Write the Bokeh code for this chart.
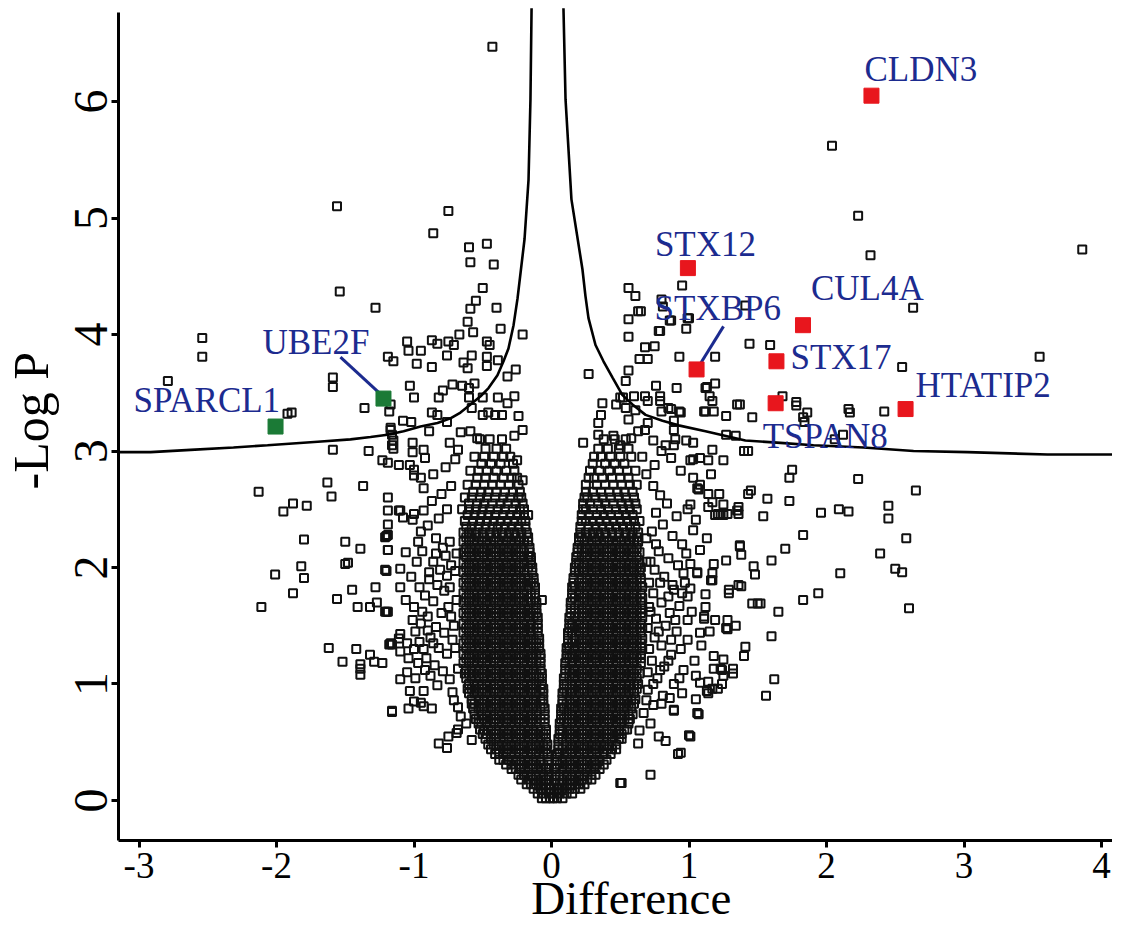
from math import pi
from bokeh.plotting import figure
from bokeh.models import ColumnDataSource, FixedTicker, Label, Range1d
from bokeh.core.properties import value
from bokeh.embed import file_html
from bokeh.resources import INLINE

# ---------------- data ----------------
x_ticks = [-3, -2, -1, 0, 1, 2, 3, 4]
x_tick_labels = ["-3", "-2", "-1", "0", "1", "2", "3", "4"]
y_ticks = [0, 1, 2, 3, 4, 5, 6]
y_tick_labels = ["0", "1", "2", "3", "4", "5", "6"]

# highlighted proteins
hl_names = ["CLDN3", "STX12", "STXBP6", "CUL4A", "STX17", "TSPAN8", "HTATIP2", "UBE2F", "SPARCL1"]
hl_diff = [2.327, 0.992, 1.055, 1.829, 1.636, 1.630, 2.575, -1.222, -2.007]
hl_logp = [6.05, 4.57, 3.70, 4.08, 3.77, 3.41, 3.36, 3.45, 3.21]
hl_group = ["up", "up", "up", "up", "up", "up", "up", "down", "down"]

# leader lines: label end -> point
leader_from_x = [-1.535, 1.251]
leader_from_y = [3.805, 4.07]
leader_to_x = [-1.245, 1.078]
leader_to_y = [3.49, 3.74]

# significance curve (two branches)
curve_left_x = [-3.149, -2.916, -2.625, -2.313, -2.065, -1.70, -1.462, -1.316, -1.193, -1.076,
                -0.953, -0.829, -0.735, -0.662, -0.589, -0.516, -0.458, -0.393, -0.349, -0.313,
                -0.276, -0.247, -0.196, -0.167, -0.153, -0.145]
curve_left_y = [2.99, 2.99, 3.01, 3.03, 3.05, 3.08, 3.10, 3.12, 3.14, 3.17,
                3.21, 3.24, 3.28, 3.33, 3.40, 3.47, 3.54, 3.65, 3.77, 3.88,
                4.08, 4.31, 4.82, 5.33, 6.02, 6.80]
curve_right_x = [0.087, 0.102, 0.145, 0.225, 0.247, 0.269, 0.32, 0.378, 0.444, 0.516, 0.589,
                 0.684, 0.807, 0.924, 1.12, 1.41, 1.665, 1.905, 2.269, 2.633, 3.025, 3.607, 4.19]
curve_right_y = [6.80, 6.02, 5.16, 4.56, 4.33, 4.14, 3.91, 3.77, 3.63, 3.48, 3.40,
                 3.31, 3.26, 3.22, 3.17, 3.09, 3.07, 3.05, 3.03, 3.00, 2.99, 2.97, 2.97]

# sparse proteins, left side
outer_left = [
    (-2.79, 3.60), (-2.54, 3.97), (-2.54, 3.81), (-1.56, 5.10), (-1.54, 4.37), (-1.28, 4.23), (-1.59, 3.63),
    (-1.59, 3.55), (-1.36, 3.37), (-1.92, 3.32), (-1.89, 3.33), (-1.19, 3.81), (-1.15, 3.77), (-1.59, 3.01),
    (-1.33, 3.00), (-1.23, 2.92), (-1.19, 2.90), (-1.18, 3.34), (-1.17, 3.20), (-1.16, 3.05),
    (-2.13, 2.65), (-1.63, 2.73), (-1.60, 2.61), (-1.37, 2.70), (-1.95, 2.48), (-1.88, 2.55), (-1.78, 2.53),
    (-1.80, 2.24), (-1.50, 2.22), (-1.39, 2.16), (-1.20, 2.27), (-1.19, 2.15), (-1.50, 2.03), (-1.48, 2.04),
    (-1.20, 1.97), (-2.01, 1.94), (-1.82, 2.01), (-1.80, 1.91), (-1.88, 1.78), (-1.45, 1.81), (-1.28, 1.83),
    (-1.56, 1.73), (-1.41, 1.66), (-1.32, 1.66), (-1.27, 1.70), (-1.20, 1.62), (-2.11, 1.66), (-1.62, 1.31),
    (-1.42, 1.30), (-1.52, 1.19), (-1.39, 1.17), (-1.39, 1.13), (-1.39, 1.08), (-1.32, 1.25), (-1.29, 1.19),
    (-1.23, 1.18), (-1.18, 1.34), (-1.16, 0.77),
    (-0.43, 6.47), (-0.75, 5.06), (-0.86, 4.87), (-0.60, 4.75), (-0.47, 4.78), (-0.59, 4.62), (-0.42, 4.60),
    (-0.50, 4.40), (-0.55, 4.29), (-0.59, 4.22), (-0.40, 4.23), (-0.61, 4.11), (-0.67, 4.00), (-0.57, 4.02),
    (-0.37, 4.05), (-0.21, 4.00), (-1.05, 3.94), (-0.87, 3.95), (-0.83, 3.92), (-0.75, 3.94), (-0.71, 3.91),
    (-0.47, 3.94), (-0.45, 3.91), (-1.04, 3.86), (-0.95, 3.86), (-0.98, 3.75), (-0.87, 3.72), (-0.76, 3.82),
    (-0.64, 3.76), (-0.61, 3.71), (-0.58, 3.82), (-0.47, 3.81), (-0.47, 3.73), (-0.39, 3.78), (-0.32, 3.64),
    (-0.26, 3.70), (-1.03, 3.56), (-1.00, 3.46), (-0.82, 3.46), (-0.79, 3.52), (-0.72, 3.57), (-0.65, 3.56),
    (-0.60, 3.54), (-0.56, 3.58), (-0.60, 3.46), (-0.58, 3.37), (-0.50, 3.46), (-0.39, 3.46), (-0.32, 3.41),
    (-0.27, 3.47), (-1.17, 3.40), (-1.08, 3.26), (-1.02, 3.25), (-0.87, 3.33), (-0.83, 3.31), (-0.76, 3.25),
    (-0.89, 3.17), (-1.17, 3.18), (-1.16, 3.14), (-0.50, 3.31), (-0.46, 3.33), (-0.41, 3.31), (-0.36, 3.31),
    (-0.24, 3.30), (-0.21, 3.18), (-0.27, 3.13), (-0.66, 3.16), (-0.59, 3.17), (-0.54, 3.11), (-1.15, 3.09),
    (-1.15, 3.02), (-1.01, 3.07), (-1.01, 2.99), (-1.11, 2.88), (-1.03, 2.88), (-1.00, 2.84), (-0.93, 3.01),
    (-0.92, 2.94), (-0.74, 3.07), (-0.68, 3.01), (-1.00, 2.79), (-0.95, 2.77), (-0.25, 2.92), (-0.21, 2.75),
    (-0.17, 2.45), (-0.93, 2.49), (-1.08, 2.43), (-1.11, 2.49), (-1.00, 2.46), (-1.19, 2.28), (-1.19, 2.15),
    (-1.06, 2.13), (-0.94, 2.14), (-1.10, 1.99), (-1.10, 1.83), (-1.06, 1.72), (-1.19, 1.62), (-0.07, 1.72),
    (-0.15, 2.06), (-1.05, 1.10), (-1.03, 0.94), (-0.93, 0.94), (-1.16, 0.76), (-1.04, 0.79), (-0.95, 0.84),
    (-0.87, 0.79), (-0.82, 0.49), (-0.76, 0.45), (-0.75, 0.55), (-0.69, 0.58), (-1.17, 1.35), (-1.10, 1.28),
    (-1.00, 1.30), (-1.11, 1.39), (-1.19, 2.60), (-1.19, 2.49), (-1.19, 2.37), (-1.21, 2.26), (-1.10, 2.49),
    (-1.01, 2.41), (-1.21, 1.98), (-1.21, 1.62), (-1.16, 1.34), (-1.10, 1.43), (-1.05, 1.35), (-1.10, 1.04),
    (-1.00, 0.85), (-0.93, 0.81), (-0.68, 0.61),
    (-0.74, 2.22), (-0.79, 2.17), (-0.84, 2.25), (-0.77, 2.10), (-0.86, 2.05), (-0.81, 1.98), (-0.76, 1.93),
    (-0.89, 1.90), (-0.83, 1.85), (-0.78, 1.80), (-0.92, 1.76), (-0.86, 1.71), (-0.75, 1.66), (-0.80, 1.61),
    (-0.90, 1.58), (-0.95, 1.52), (-0.84, 1.49), (-0.78, 1.44), (-0.88, 1.40), (-0.96, 1.36), (-0.82, 1.31),
    (-0.76, 1.26), (-0.91, 1.22), (-0.85, 1.16), (-0.79, 1.11), (-0.97, 1.18), (-0.74, 1.04), (-0.83, 0.99),
    (-0.72, 0.93), (-0.88, 1.07), (-0.95, 2.31), (-0.90, 2.36), (-0.82, 2.42), (-0.76, 2.50), (-0.87, 2.57),
    (-0.80, 2.63), (-0.73, 2.70), (-0.93, 2.68), (-0.86, 2.80), (-0.77, 2.86), (-0.70, 2.93), (-0.68, 0.80),
    (-0.62, 0.66), (-0.58, 0.52), (-0.66, 0.72), (-0.71, 0.86), (-0.70, 1.97), (-0.69, 1.72), (-0.71, 1.50),
    (-0.69, 2.12), (-0.70, 1.31), (-0.68, 1.13),
    (-0.98, 2.05), (-1.02, 1.92), (-0.96, 1.83), (-1.00, 1.66), (-0.94, 1.62), (-1.01, 1.55), (-0.90, 1.46),
    (-0.99, 1.45), (-0.93, 1.30), (-1.04, 1.22), (-0.92, 1.12), (-0.99, 1.05), (-0.86, 1.35), (-0.73, 1.58),
    (-0.72, 1.38), (-0.74, 1.83), (-0.73, 2.02), (-0.84, 2.12), (-0.97, 2.22), (-0.89, 1.96),
]

# sparse proteins, right side
outer_right = [
    (2.04, 5.62), (2.23, 5.02), (2.32, 4.68), (3.86, 4.73), (2.63, 4.23), (3.55, 3.81), (2.55, 3.72),
    (2.42, 3.34), (2.17, 3.33), (1.86, 3.33), (1.59, 3.91), (1.78, 3.39), (1.68, 3.47), (1.84, 3.25),
    (1.44, 3.92), (1.19, 3.81), (1.41, 4.25), (0.80, 4.30),
    (0.95, 4.42), (0.56, 4.40), (0.61, 4.33), (0.65, 4.20), (0.81, 4.24), (0.86, 4.12), (1.00, 4.14),
    (0.98, 4.05), (0.56, 4.13), (0.79, 4.03), (0.56, 3.98), (0.68, 3.89), (0.75, 3.90), (0.64, 3.79),
    (0.70, 3.79), (0.93, 3.81), (0.27, 3.66), (0.56, 3.69), (0.54, 3.60), (0.76, 3.56), (0.91, 3.54),
    (1.13, 3.55), (1.19, 3.58), (1.15, 3.47), (1.17, 3.43), (1.37, 3.40), (0.79, 3.47), (0.79, 3.43),
    (0.70, 3.43), (0.80, 3.34), (0.87, 3.36), (0.93, 3.34), (1.11, 3.34), (1.18, 3.34), (1.27, 3.30),
    (0.89, 3.26), (0.89, 3.18), (1.27, 3.14), (1.34, 3.13), (1.40, 3.00), (0.37, 3.41), (0.36, 3.31),
    (0.34, 3.24), (0.47, 3.40), (0.52, 3.46), (0.54, 3.37), (0.61, 3.35), (0.56, 3.27), (0.70, 3.24),
    (0.23, 3.07), (0.90, 3.10), (0.98, 3.09), (1.03, 3.07), (1.17, 3.01), (1.25, 2.92), (1.03, 2.93),
    (1.08, 2.94), (1.14, 2.92), (1.16, 2.80), (1.07, 2.67), (1.22, 2.63), (1.36, 2.52), (1.37, 2.19),
    (1.19, 2.45), (1.25, 2.45), (1.05, 2.41),
    (1.78, 3.42), (2.16, 3.36), (1.12, 3.34), (1.46, 3.29), (1.83, 3.29), (2.12, 3.14), (2.06, 3.10),
    (1.43, 3.00), (1.75, 2.84), (1.73, 2.77), (2.23, 2.76), (2.65, 2.66), (1.06, 2.68), (1.17, 2.56),
    (1.14, 2.52), (1.45, 2.66), (1.43, 2.63), (1.57, 2.59), (1.73, 2.57), (1.36, 2.46), (1.54, 2.44),
    (1.01, 2.54), (1.23, 2.46), (1.21, 2.46), (1.96, 2.47), (2.09, 2.50), (2.16, 2.48), (2.45, 2.53),
    (2.45, 2.42), (2.58, 2.25), (1.83, 2.28), (1.70, 2.16), (2.39, 2.12), (2.50, 1.99), (2.55, 1.96),
    (2.10, 1.95), (1.94, 1.78), (1.83, 1.72), (2.60, 1.65), (1.65, 1.62), (1.50, 1.69), (1.46, 1.69),
    (1.52, 1.69), (1.29, 1.78), (1.36, 1.85), (1.38, 1.84), (1.47, 2.01), (1.48, 1.94), (1.60, 2.06),
    (1.37, 2.18), (1.17, 1.89), (1.12, 1.66), (1.11, 1.58), (1.19, 1.55), (1.28, 1.55), (1.34, 1.50),
    (1.27, 1.48), (1.60, 1.41), (1.41, 1.32), (1.40, 1.24), (1.25, 1.21), (1.18, 1.13), (1.24, 1.12),
    (1.25, 1.07), (1.32, 1.09), (1.24, 1.00), (1.62, 1.04), (1.56, 0.90), (1.14, 1.02), (1.13, 0.94),
    (1.17, 0.96), (1.05, 0.87), (1.07, 0.74), (1.00, 0.56), (0.94, 0.41),
    (1.01, 1.82), (0.92, 0.40), (0.72, 0.22), (0.51, 0.15), (0.89, 0.77), (0.80, 0.83), (0.83, 0.51),
    (0.78, 0.55), (0.63, 0.49), (0.63, 4.20), (0.78, 4.03), (0.87, 4.12), (0.99, 4.14), (1.12, 3.54),
    (0.50, 3.46), (0.60, 3.47), (0.68, 3.47), (0.85, 3.37), (0.94, 3.33), (1.35, 3.40), (0.34, 3.14),
    (0.45, 3.13), (0.50, 3.05), (0.58, 3.11), (0.63, 3.17), (0.68, 3.18), (0.74, 3.09), (0.83, 3.05),
    (0.89, 3.05), (0.87, 2.94), (1.01, 2.92), (0.94, 2.83), (1.03, 2.77), (1.08, 2.71), (1.25, 2.54),
    (1.28, 2.46), (1.35, 2.49), (1.14, 2.63), (1.38, 2.11), (1.27, 2.06), (1.29, 1.81), (1.18, 2.03),
    (1.17, 1.95), (1.16, 1.89), (1.08, 2.15), (1.01, 2.03), (1.06, 1.95), (0.89, 1.81), (0.99, 1.75),
    (1.11, 1.56), (1.28, 1.47), (1.18, 1.24), (1.32, 1.13), (1.23, 1.13), (1.05, 1.07), (1.08, 1.01),
    (1.14, 0.92), (1.21, 0.96), (0.89, 0.78), (1.06, 0.75), (1.01, 0.55), (0.50, 0.15),
    (0.74, 2.70), (0.79, 2.62), (0.84, 2.55), (0.76, 2.47), (0.91, 2.44), (0.81, 2.37), (0.73, 2.31),
    (0.88, 2.27), (0.95, 2.20), (0.78, 2.14), (0.85, 2.08), (0.92, 2.02), (0.75, 1.98), (0.82, 1.92),
    (0.97, 1.87), (0.88, 1.85), (0.74, 1.78), (0.80, 1.70), (0.93, 1.67), (0.86, 1.61), (0.76, 1.56),
    (0.99, 1.55), (0.83, 1.50), (0.91, 1.45), (0.75, 1.40), (0.80, 1.33), (0.94, 1.30), (0.87, 1.25),
    (0.73, 1.20), (0.82, 1.15), (0.96, 1.12), (0.77, 1.05), (0.89, 1.00), (0.70, 0.95), (0.81, 0.90),
    (0.74, 0.82), (0.67, 0.75), (0.72, 0.66), (0.64, 0.60), (0.69, 2.80), (0.75, 2.88), (0.66, 2.95),
    (0.80, 3.00), (0.99, 2.50), (1.03, 2.32), (0.98, 2.12), (1.06, 1.96), (0.95, 1.78), (1.02, 1.62),
    (1.08, 1.44), (0.99, 1.38), (1.04, 1.20), (0.95, 0.92), (0.70, 1.48), (0.71, 1.87), (0.69, 2.25),
    (0.70, 1.10), (0.69, 2.05), (0.71, 1.66),
    (0.76, 2.20), (0.72, 2.05), (0.79, 1.87), (0.85, 1.75), (0.72, 1.62), (0.90, 1.55), (0.78, 1.45),
    (0.87, 1.38), (0.71, 1.30), (0.85, 1.20), (0.79, 1.12), (0.93, 1.05), (0.74, 1.00), (0.86, 0.88),
    (0.69, 0.86), (1.12, 1.77), (1.09, 1.33), (1.15, 1.45), (0.96, 1.95), (1.13, 2.25),
]

# dense core of the left arm: (-Log P, [Difference values])
left_core_rows = [
    (0.02, [-.01, -.04, -.07]),
    (0.06, [-.02, -.06, -.10]),
    (0.10, [-.01, -.04, -.08, -.13]),
    (0.14, [-.02, -.06, -.11, -.15, -.18]),
    (0.18, [-.02, -.04, -.08, -.13, -.17, -.22]),
    (0.22, [-.02, -.06, -.11, -.15, -.20, -.24]),
    (0.27, [-.02, -.04, -.08, -.13, -.17, -.22, -.26, -.29]),
    (0.31, [-.02, -.06, -.11, -.15, -.20, -.24, -.29, -.33]),
    (0.35, [-.03, -.08, -.13, -.17, -.22, -.26, -.31, -.35, -.38]),
    (0.40, [-.03, -.06, -.11, -.15, -.20, -.24, -.29, -.33, -.38, -.41]),
    (0.44, [-.04, -.08, -.13, -.17, -.22, -.26, -.31, -.35, -.40, -.44]),
    (0.48, [-.03, -.06, -.11, -.15, -.20, -.24, -.29, -.33, -.38, -.42, -.46]),
    (0.53, [-.04, -.08, -.13, -.17, -.22, -.26, -.31, -.35, -.40, -.44, -.48]),
    (0.57, [-.04, -.06, -.11, -.15, -.20, -.24, -.29, -.33, -.38, -.42, -.47, -.50]),
    (0.61, [-.04, -.08, -.13, -.17, -.22, -.26, -.31, -.35, -.40, -.44, -.49, -.52]),
    (0.66, [-.05, -.11, -.15, -.20, -.24, -.29, -.33, -.38, -.42, -.47, -.51, -.53]),
    (0.70, [-.05, -.08, -.13, -.17, -.22, -.26, -.31, -.35, -.40, -.44, -.49, -.53, -.55]),
    (0.74, [-.05, -.11, -.15, -.20, -.24, -.29, -.33, -.38, -.42, -.47, -.51, -.56]),
    (0.79, [-.05, -.08, -.13, -.17, -.22, -.26, -.31, -.35, -.40, -.44, -.49, -.53, -.57]),
    (0.83, [-.06, -.11, -.15, -.20, -.24, -.29, -.33, -.38, -.42, -.47, -.51, -.56, -.58]),
    (0.87, [-.06, -.08, -.13, -.17, -.22, -.26, -.31, -.35, -.40, -.44, -.49, -.53, -.58]),
    (0.92, [-.06, -.11, -.15, -.20, -.24, -.29, -.33, -.38, -.42, -.47, -.51, -.56, -.60]),
    (0.96, [-.06, -.08, -.13, -.17, -.22, -.26, -.31, -.35, -.40, -.44, -.49, -.53, -.58, -.61]),
    (1.00, [-.07, -.11, -.15, -.20, -.24, -.29, -.33, -.38, -.42, -.47, -.51, -.56, -.60]),
    (1.05, [-.07, -.09, -.13, -.17, -.22, -.26, -.31, -.35, -.40, -.44, -.49, -.53, -.58, -.62]),
    (1.09, [-.07, -.11, -.15, -.20, -.24, -.29, -.33, -.38, -.42, -.47, -.51, -.56, -.60, -.63]),
    (1.13, [-.08, -.13, -.17, -.22, -.26, -.31, -.35, -.40, -.44, -.49, -.53, -.58, -.62]),
    (1.18, [-.08, -.11, -.15, -.20, -.24, -.29, -.33, -.38, -.42, -.47, -.51, -.56, -.60, -.64]),
    (1.22, [-.08, -.13, -.17, -.22, -.26, -.31, -.35, -.40, -.44, -.49, -.53, -.58, -.62]),
    (1.26, [-.08, -.11, -.15, -.20, -.24, -.29, -.33, -.38, -.42, -.47, -.51, -.56, -.60, -.64]),
    (1.31, [-.09, -.13, -.17, -.22, -.26, -.31, -.35, -.40, -.44, -.49, -.53, -.58, -.62]),
    (1.35, [-.09, -.11, -.15, -.20, -.24, -.29, -.33, -.38, -.42, -.47, -.51, -.56, -.60, -.64]),
    (1.39, [-.09, -.13, -.17, -.22, -.26, -.31, -.35, -.40, -.44, -.49, -.53, -.58, -.62]),
    (1.44, [-.10, -.15, -.20, -.24, -.29, -.33, -.38, -.42, -.47, -.51, -.56, -.60, -.64]),
    (1.48, [-.10, -.13, -.17, -.22, -.26, -.31, -.35, -.40, -.44, -.49, -.53, -.58, -.62]),
    (1.52, [-.10, -.15, -.20, -.24, -.29, -.33, -.38, -.42, -.47, -.51, -.56, -.60, -.64]),
    (1.57, [-.10, -.13, -.17, -.22, -.26, -.31, -.35, -.40, -.44, -.49, -.53, -.58, -.62]),
    (1.61, [-.11, -.15, -.20, -.24, -.29, -.33, -.38, -.42, -.47, -.51, -.56, -.60, -.64]),
    (1.65, [-.11, -.13, -.17, -.22, -.26, -.31, -.35, -.40, -.44, -.49, -.53, -.58, -.62]),
    (1.70, [-.11, -.15, -.20, -.24, -.29, -.33, -.38, -.42, -.47, -.51, -.56, -.60, -.64]),
    (1.74, [-.12, -.17, -.22, -.26, -.31, -.35, -.40, -.44, -.49, -.53, -.58, -.62]),
    (1.78, [-.12, -.15, -.20, -.24, -.29, -.33, -.38, -.42, -.47, -.51, -.56, -.60, -.64]),
    (1.83, [-.12, -.17, -.22, -.26, -.31, -.35, -.40, -.44, -.49, -.53, -.58, -.62]),
    (1.87, [-.13, -.15, -.20, -.24, -.29, -.33, -.38, -.42, -.47, -.51, -.56, -.60, -.64]),
    (1.91, [-.13, -.17, -.22, -.26, -.31, -.35, -.40, -.44, -.49, -.53, -.58, -.62]),
    (1.96, [-.14, -.20, -.24, -.29, -.33, -.38, -.42, -.47, -.51, -.56, -.60, -.64]),
    (2.00, [-.14, -.17, -.22, -.26, -.31, -.35, -.40, -.44, -.49, -.53, -.58, -.62]),
    (2.04, [-.15, -.20, -.24, -.29, -.33, -.38, -.42, -.47, -.51, -.56, -.60, -.64]),
    (2.09, [-.15, -.17, -.22, -.26, -.31, -.35, -.40, -.44, -.49, -.53, -.58, -.62]),
    (2.13, [-.16, -.20, -.24, -.29, -.33, -.38, -.42, -.47, -.51, -.56, -.60, -.64]),
    (2.17, [-.16, -.22, -.26, -.31, -.35, -.40, -.44, -.49, -.53, -.58, -.62]),
    (2.22, [-.17, -.20, -.24, -.29, -.33, -.38, -.42, -.47, -.51, -.56, -.60, -.64]),
    (2.26, [-.17, -.22, -.26, -.31, -.35, -.40, -.44, -.49, -.53, -.58, -.62]),
    (2.30, [-.18, -.22, -.27, -.31, -.36, -.40, -.45, -.50, -.55, -.60, -.64]),
    (2.35, [-.19, -.24, -.29, -.34, -.39, -.43, -.48, -.53, -.58, -.62]),
    (2.40, [-.19, -.22, -.27, -.32, -.37, -.42, -.47, -.52, -.57, -.63]),
    (2.45, [-.20, -.25, -.30, -.35, -.41, -.46, -.51, -.56, -.61]),
    (2.50, [-.20, -.23, -.28, -.34, -.39, -.45, -.50, -.55, -.60, -.65]),
    (2.55, [-.21, -.26, -.32, -.37, -.43, -.49, -.54, -.60]),
    (2.60, [-.22, -.24, -.30, -.35, -.41, -.47, -.52, -.58, -.63]),
    (2.65, [-.23, -.28, -.34, -.40, -.46, -.51, -.57]),
    (2.71, [-.24, -.31, -.37, -.43, -.49, -.55, -.61]),
    (2.77, [-.25, -.29, -.35, -.42, -.48, -.54]),
    (2.83, [-.27, -.33, -.40, -.47, -.53, -.59]),
    (2.89, [-.28, -.37, -.44, -.51]),
    (2.95, [-.30, -.35, -.42, -.49, -.56]),
    (3.02, [-.33, -.40, -.48]),
    (3.10, [-.36, -.45, -.52]),
]

# dense core of the right arm: (-Log P, [Difference values])
right_core_rows = [
    (0.02, [.01, .04, .08]),
    (0.06, [.02, .06, .11, .15]),
    (0.10, [.02, .04, .08, .13, .17, .21]),
    (0.14, [.02, .06, .11, .15, .20, .24]),
    (0.18, [.03, .08, .13, .17, .22, .26, .29]),
    (0.22, [.03, .06, .11, .15, .20, .24, .29, .32]),
    (0.27, [.03, .08, .13, .17, .22, .26, .31, .35]),
    (0.31, [.04, .06, .11, .15, .20, .24, .29, .33, .38]),
    (0.35, [.04, .08, .13, .17, .22, .26, .31, .35, .40]),
    (0.40, [.04, .06, .11, .15, .20, .24, .29, .33, .38, .43]),
    (0.44, [.05, .08, .13, .17, .22, .26, .31, .35, .40, .44, .47]),
    (0.48, [.05, .11, .15, .20, .24, .29, .33, .38, .42, .47]),
    (0.53, [.05, .08, .13, .17, .22, .26, .31, .35, .40, .44, .49, .51]),
    (0.57, [.06, .11, .15, .20, .24, .29, .33, .38, .42, .47, .51]),
    (0.61, [.06, .08, .13, .17, .22, .26, .31, .35, .40, .44, .49, .53, .55]),
    (0.66, [.06, .11, .15, .20, .24, .29, .33, .38, .42, .47, .51, .56]),
    (0.70, [.07, .09, .13, .17, .22, .26, .31, .35, .40, .44, .49, .53, .57]),
    (0.74, [.07, .11, .15, .20, .24, .29, .33, .38, .42, .47, .51, .56, .59]),
    (0.79, [.07, .09, .13, .17, .22, .26, .31, .35, .40, .44, .49, .53, .58]),
    (0.83, [.08, .11, .15, .20, .24, .29, .33, .38, .42, .47, .51, .56, .60]),
    (0.87, [.08, .13, .17, .22, .26, .31, .35, .40, .44, .49, .53, .58, .61]),
    (0.92, [.08, .11, .15, .20, .24, .29, .33, .38, .42, .47, .51, .56, .60]),
    (0.96, [.09, .13, .17, .22, .26, .31, .35, .40, .44, .49, .53, .58, .62]),
    (1.00, [.09, .11, .15, .20, .24, .29, .33, .38, .42, .47, .51, .56, .60, .63]),
    (1.05, [.09, .13, .17, .22, .26, .31, .35, .40, .44, .49, .53, .58, .62]),
    (1.09, [.10, .15, .20, .24, .29, .33, .38, .42, .47, .51, .56, .60, .64]),
    (1.13, [.10, .13, .17, .22, .26, .31, .35, .40, .44, .49, .53, .58, .62]),
    (1.18, [.10, .15, .20, .24, .29, .33, .38, .42, .47, .51, .56, .60, .65]),
    (1.22, [.11, .13, .17, .22, .26, .31, .35, .40, .44, .49, .53, .58, .62, .65]),
    (1.26, [.11, .15, .20, .24, .29, .33, .38, .42, .47, .51, .56, .60, .65]),
    (1.31, [.11, .13, .17, .22, .26, .31, .35, .40, .44, .49, .53, .58, .62, .66]),
    (1.35, [.12, .15, .20, .24, .29, .33, .38, .42, .47, .51, .56, .60, .65]),
    (1.39, [.12, .17, .22, .26, .31, .35, .40, .44, .49, .53, .58, .62, .66]),
    (1.44, [.12, .15, .20, .24, .29, .33, .38, .42, .47, .51, .56, .60, .65]),
    (1.48, [.13, .17, .22, .26, .31, .35, .40, .44, .49, .53, .58, .62, .66]),
    (1.52, [.13, .15, .20, .24, .29, .33, .38, .42, .47, .51, .56, .60, .65]),
    (1.57, [.13, .17, .22, .26, .31, .35, .40, .44, .49, .53, .58, .62, .66]),
    (1.61, [.14, .20, .24, .29, .33, .38, .42, .47, .51, .56, .60, .65]),
    (1.65, [.14, .17, .22, .26, .31, .35, .40, .44, .49, .53, .58, .62, .66]),
    (1.70, [.14, .20, .24, .29, .33, .38, .42, .47, .51, .56, .60, .65]),
    (1.74, [.15, .17, .22, .26, .31, .35, .40, .44, .49, .53, .58, .62, .66]),
    (1.78, [.15, .20, .24, .29, .33, .38, .42, .47, .51, .56, .60, .65]),
    (1.83, [.15, .17, .22, .26, .31, .35, .40, .44, .49, .53, .58, .62, .66]),
    (1.87, [.16, .20, .24, .29, .33, .38, .42, .47, .51, .56, .60, .65]),
    (1.91, [.16, .22, .26, .31, .35, .40, .44, .49, .53, .58, .62, .65]),
    (1.96, [.17, .20, .24, .29, .33, .38, .42, .47, .51, .56, .60, .64]),
    (2.00, [.17, .22, .26, .31, .35, .40, .44, .49, .53, .58, .62, .65]),
    (2.04, [.18, .20, .24, .29, .33, .38, .42, .47, .51, .56, .60, .64]),
    (2.09, [.18, .22, .26, .31, .35, .40, .44, .49, .53, .58, .62]),
    (2.13, [.19, .24, .29, .33, .38, .42, .47, .51, .56, .60, .64]),
    (2.17, [.19, .22, .26, .31, .35, .40, .44, .49, .53, .58, .62]),
    (2.22, [.20, .24, .29, .33, .38, .42, .47, .51, .56, .60, .63]),
    (2.26, [.20, .22, .26, .31, .35, .40, .44, .49, .53, .58, .62]),
    (2.30, [.21, .25, .30, .34, .39, .44, .49, .54, .59, .63]),
    (2.35, [.21, .27, .32, .37, .42, .47, .52, .57, .61]),
    (2.40, [.22, .25, .30, .35, .40, .45, .50, .55, .60, .64]),
    (2.45, [.22, .27, .33, .38, .43, .49, .54, .59]),
    (2.50, [.23, .25, .30, .36, .41, .47, .52, .57, .62]),
    (2.55, [.23, .28, .34, .39, .45, .51, .56, .61]),
    (2.60, [.24, .26, .32, .37, .43, .49, .54, .60]),
    (2.65, [.25, .30, .36, .42, .48, .53, .59]),
    (2.71, [.25, .33, .39, .45, .51, .57, .62]),
    (2.77, [.27, .31, .37, .44, .50, .56]),
    (2.83, [.28, .35, .42, .49, .55, .61]),
    (2.89, [.30, .39, .46, .53]),
    (2.95, [.31, .36, .43, .50, .58]),
    (3.02, [.34, .41, .49, .56]),
    (3.10, [.38, .46, .54]),
]

# ---------------- styles ----------------
FONT = "Liberation Serif"
LABEL_BLUE = "#1c2b8f"
group_color = {"up": "#e8161d", "down": "#1b7a36"}
label_dx = [-7, -33, -42, 8, 14, -13, 10, -121, -142]
label_dy = [-26, -24, -61, -37, -4, 33, -24, -56, -26]

# ---------------- build ----------------
all_x, all_y = [], []
for px, py in outer_left + outer_right:
    all_x.append(px)
    all_y.append(py)
for rows in (left_core_rows, right_core_rows):
    for yv, xs in rows:
        for xv in xs:
            all_x.append(xv)
            all_y.append(yv)

# frame covers the whole canvas; axes are pinned inside it
p = figure(width=1112, height=925,
           x_range=Range1d(-4.0073, 4.08), y_range=Range1d(-1.073, 6.867),
           output_backend="svg", toolbar_location=None, title=None,
           min_border=0, min_border_left=0, min_border_right=0,
           min_border_top=0, min_border_bottom=0)
p.outline_line_color = None
p.grid.visible = False
p.background_fill_color = "white"
p.border_fill_color = "white"

p.xaxis.fixed_location = -0.341
p.yaxis.fixed_location = -3.149
p.xaxis.bounds = (-3.149, 4.08)
p.yaxis.bounds = (-0.341, 6.764)

for ax in (p.xaxis[0], p.yaxis[0]):
    ax.axis_line_width = 3
    ax.axis_line_color = "black"
    ax.major_tick_line_width = 3
    ax.major_tick_line_color = "black"
    ax.major_tick_out = 7
    ax.major_tick_in = 0
    ax.minor_tick_line_color = None
    ax.major_label_text_font = FONT
    ax.major_label_text_color = "black"

p.xaxis.ticker = FixedTicker(ticks=x_ticks)
p.yaxis.ticker = FixedTicker(ticks=y_ticks)
p.xaxis.major_label_overrides = {t: s for t, s in zip(x_ticks, x_tick_labels)}
p.yaxis.major_label_overrides = {t: s for t, s in zip(y_ticks, y_tick_labels)}
p.xaxis.major_label_text_font_size = "37px"
p.yaxis.major_label_text_font_size = "48px"
p.yaxis.major_label_orientation = "vertical"
p.xaxis.major_label_standoff = 6
p.yaxis.major_label_standoff = 5

# all proteins (open squares)
p.scatter(all_x, all_y, marker="square", size=8, fill_alpha=0,
          line_color="#111111", line_width=2)

# significance curve
p.line(curve_left_x, curve_left_y, line_color="black", line_width=2.6)
p.line(curve_right_x, curve_right_y, line_color="black", line_width=2.6)

# leader lines
p.segment(leader_from_x, leader_from_y, leader_to_x, leader_to_y,
          line_color=LABEL_BLUE, line_width=3)

# highlighted proteins
hl_src = ColumnDataSource(dict(x=hl_diff, y=hl_logp, name=hl_names,
                               color=[group_color[g] for g in hl_group],
                               dx=label_dx, dy=label_dy))
p.scatter("x", "y", source=hl_src, marker="square", size=15,
          fill_color="color", line_color="color", line_width=1)
p.text("x", "y", text="name", source=hl_src, x_offset="dx", y_offset="dy",
       text_font=value(FONT), text_font_size="35px", text_color=LABEL_BLUE,
       text_align="left", text_baseline="alphabetic")

# axis titles
p.add_layout(Label(x=0.58, y=-0.833, text="Difference", text_font=FONT,
                   text_font_size="47px", text_color="black",
                   text_align="center", text_baseline="alphabetic"))
p.add_layout(Label(x=-3.782, y=3.26, text="-Log P", text_font=FONT,
                   text_font_size="50px", text_color="black", angle=pi / 2,
                   text_align="center", text_baseline="alphabetic"))

open("out.html", "w").write(file_html(p, INLINE))
